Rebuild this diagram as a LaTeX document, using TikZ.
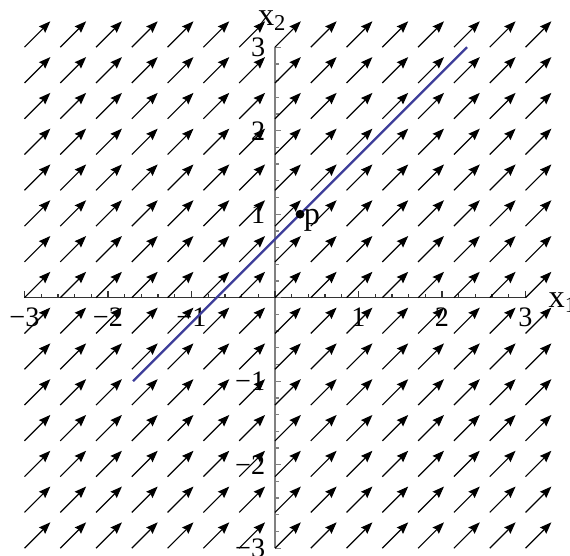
\documentclass[tikz,border=0pt]{standalone}
\usepackage{fontspec}
\setmainfont{Liberation Serif}
\usetikzlibrary{arrows.meta}
\definecolor{curvecol}{rgb}{0.24,0.24,0.6}
\begin{document}
\begin{tikzpicture}[x=1cm,y=1cm,
  field/.style={line width=0.4pt, -{Stealth[length=4pt,width=3pt,inset=0.5pt]}},
  ticklab/.style={inner sep=0pt, font=\fontsize{9.6}{11}\selectfont},
  axlab/.style={inner sep=0pt, font=\fontsize{11}{13}\selectfont},
  xax/.style={line width=0.45pt, black!80},
  yax/.style={line width=0.45pt, black!50},
  orbit/.style={line width=0.75pt, curvecol},
  dot/.style={circle, fill=black, inner sep=0pt, minimum size=3pt}
  ]
\useasboundingbox (-3.293,-3.093) rectangle (3.533,3.565);
% axes
\coordinate (xl) at (-3,0); \coordinate (xr) at (3,0);
\coordinate (yb) at (0,-3); \coordinate (yt) at (0,3);
\draw[xax] (xl) -- (xr);
\draw[yax] (yb) -- (yt);
\foreach \k in {0,...,30} {
  \pgfmathsetmacro{\t}{-3+\k*0.2}
  \pgfmathtruncatemacro{\m}{mod(\k,5)}
  \ifnum\m=0
    \draw[xax] (\t,0) -- ++(0,0.075);
    \draw[yax] (0,\t) -- ++(0.075,0);
  \else
    \draw[xax] (\t,0) -- ++(0,0.045);
    \draw[yax] (0,\t) -- ++(0.045,0);
  \fi
}
\foreach \v/\s [count=\n] in {-3/−3,-2/−2,-1/−1,1/1,2/2,3/3} {
  \node[ticklab, anchor=north] (tx\n) at (\v,-0.12) {\s};
  \node[ticklab, anchor=east] (ty\n) at (-0.11,\v) {\s};
}
\node[axlab, anchor=base west] (xonelab) at (3.27,-0.12) {x\textsubscript{1}};
\node[axlab, anchor=base west] (xtwolab) at (-0.21,3.257) {x\textsubscript{2}};
% vector field
\foreach \i in {0,...,14} {
  \foreach \j in {0,...,14} {
    \draw[field] ({-3+\i*3/7},{-3+\j*3/7}) -- ++(0.31,0.31);
  }
}
% trajectory
\coordinate (a) at (-1.7,-1);
\coordinate (b) at (2.3,3);
\draw[orbit] (a) -- (b);
% point p
\node[dot] (p) at (0.3,1) {};
\node[axlab, anchor=west] (plab) at (0.34,0.93) {p};
\end{tikzpicture}
\end{document}
